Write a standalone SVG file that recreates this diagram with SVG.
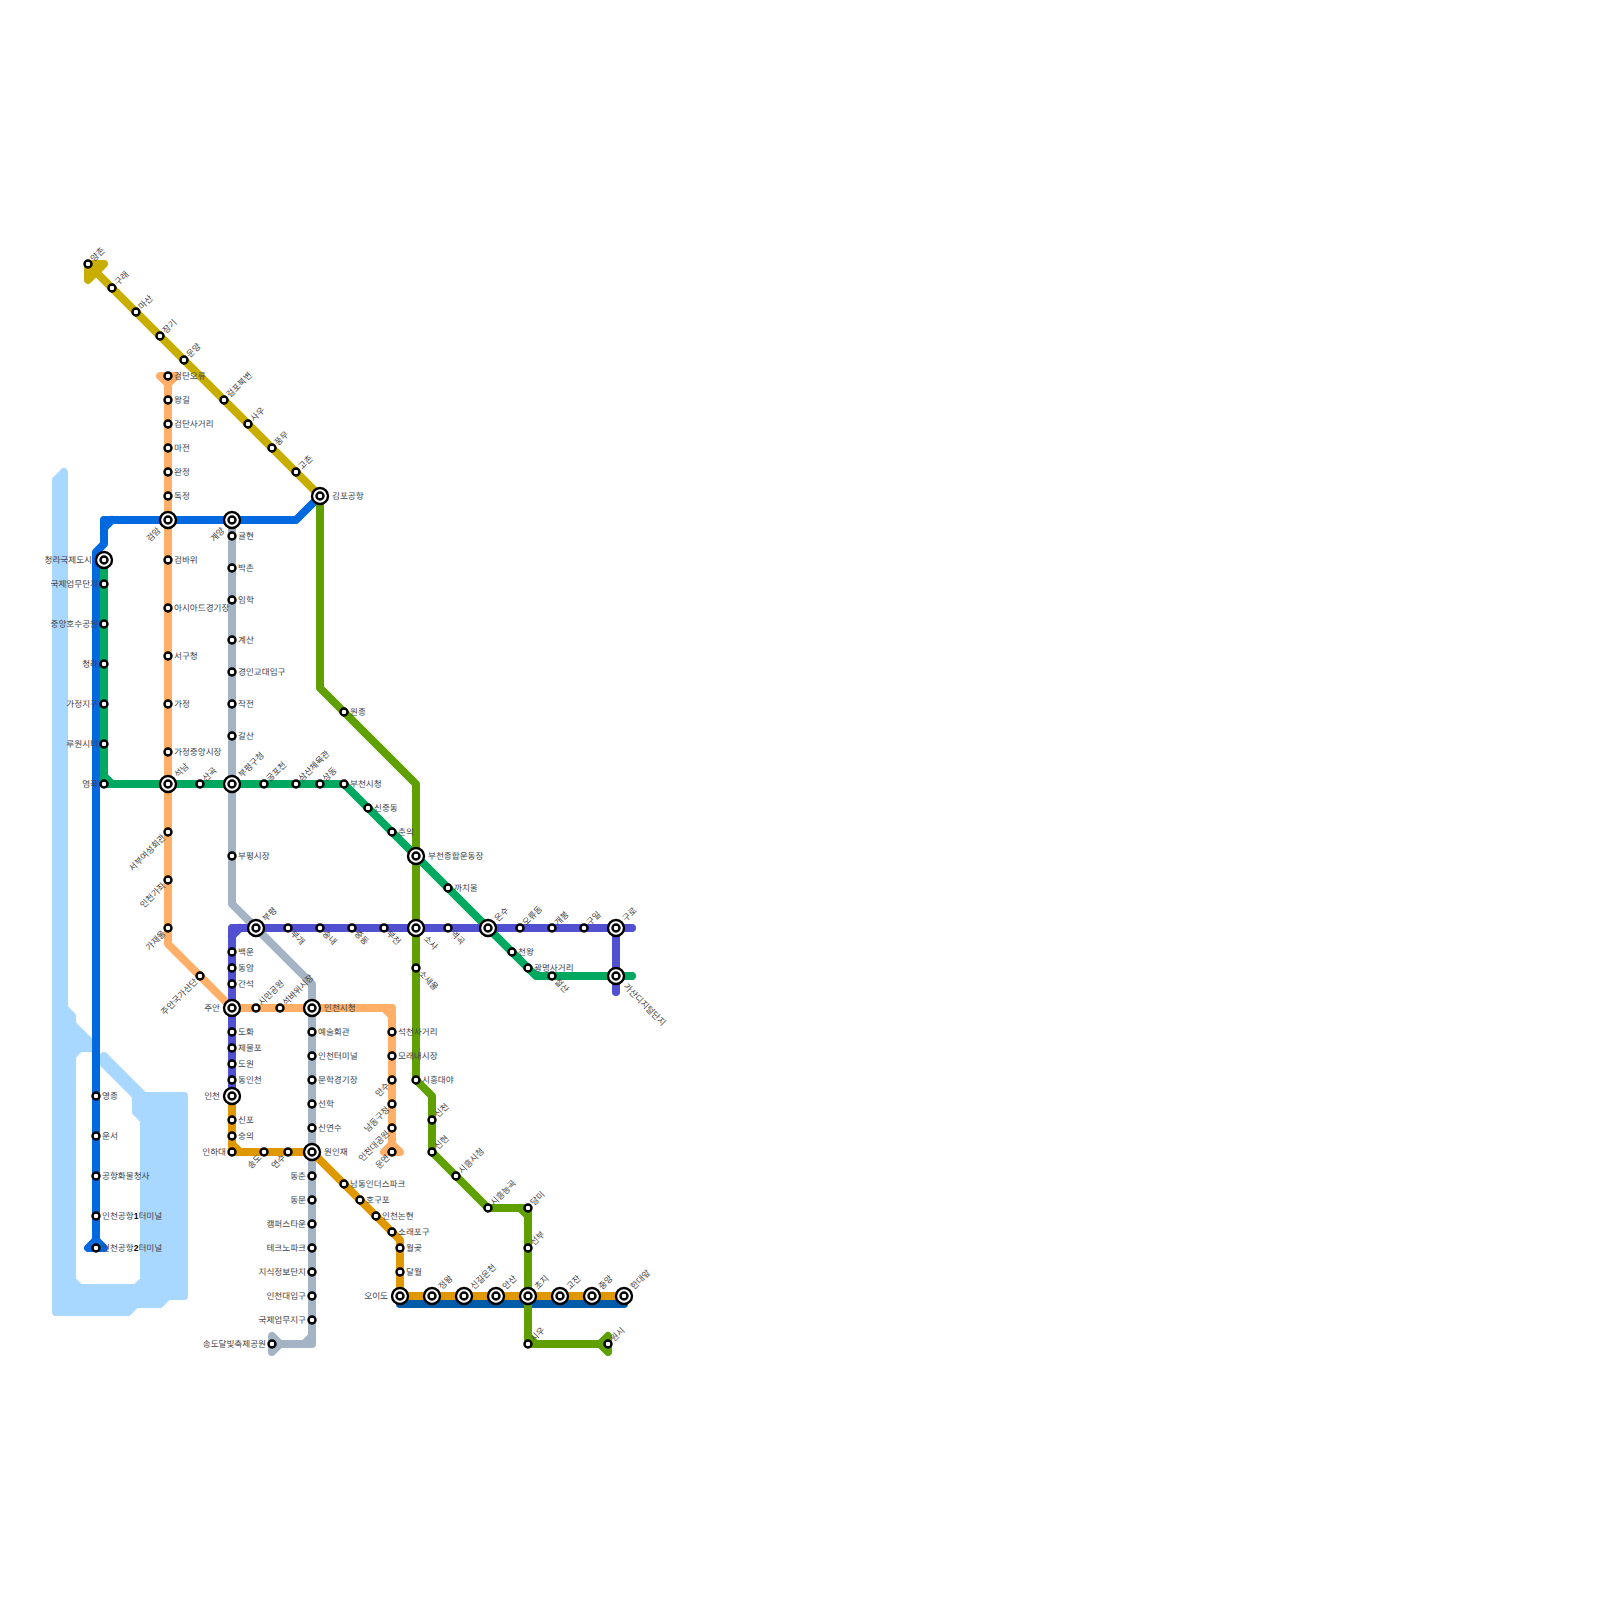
<svg xmlns="http://www.w3.org/2000/svg" width="1600" height="1600" viewBox="0 0 1600 1600">
<style>
.l{fill:none;stroke-width:8;stroke-linecap:round;stroke-linejoin:round}
.f{stroke-width:8;stroke-linejoin:round}
.s{fill:#fff;stroke:#000;stroke-width:2.4}
text{font-family:"Liberation Sans","Noto Sans CJK KR",sans-serif;font-size:8.6px;fill:#444;dominant-baseline:central;text-rendering:geometricPrecision}
.e{text-anchor:end}
.d{font-weight:700;fill:#000}
</style>
<rect width="1600" height="1600" fill="#fff"/>
<path id="water" d="M56 1312L56 480L64 472L64 1008L72 1016L72 1024L96 1048L80 1048L72 1056L72 1280L80 1288L136 1288L144 1280L144 1120L136 1112L136 1096L104 1064L104 1056L144 1096L184 1096L184 1296L168 1296L160 1304L136 1304L128 1312Z" fill="#a8d8ff" stroke="#a8d8ff" stroke-width="8" stroke-linejoin="round"/>
<g id="connectors">
<path class="l" stroke="#005ba8" d="M400 1304H624"/>
<g stroke="#a5b4c4"><path class="l" d="M232 520V904L312 984V1344H272M312 1336L304 1344"/><path class="f" fill="#a5b4c4" d="M272 1336V1352L280 1344Z"/></g>
<g stroke="#ffaf68"><path class="l" d="M168 376V944L232 1008H392V1152M384 1008L392 1016"/><path class="f" fill="#ffaf68" d="M160 376H176L168 384Z"/><path class="f" fill="#ffaf68" d="M384 1152H400L392 1144Z"/></g>
<g stroke="#0069e0"><path class="l" d="M320 496L296 520H104V544L96 552V1248M104 528L112 520"/><path class="f" fill="#0069e0" d="M88 1248H104L96 1240Z"/></g>
<path class="l" stroke="#00a860" d="M104 560V784H344L536 976H632M104 776L112 784"/>
<path class="l" stroke="#5050d0" d="M632 928H232V1096M232 936L240 928M616 928V992"/>
<path class="l" stroke="#e09800" d="M232 1096V1152H312L400 1240V1296H624M232 1144L240 1152"/>
<g stroke="#5fa000"><path class="l" d="M320 496V688L416 784V1080L432 1096V1152L488 1208H528V1344H608M520 1208L528 1216M528 1336L536 1344"/><path class="f" fill="#5fa000" d="M608 1336V1352L600 1344Z"/></g>
<g stroke="#c8ae00"><path class="l" d="M320 496L88 264"/><path class="f" fill="#c8ae00" d="M88 264H104L88 280Z"/></g>
</g>
<g id="st-yangchon"><circle class="s" cx="88" cy="264" r="3.5"/><text transform="translate(92 260) rotate(-45)">양촌</text></g>
<g id="st-gurae"><circle class="s" cx="112" cy="288" r="3.5"/><text transform="translate(116 284) rotate(-45)">구래</text></g>
<g id="st-masan"><circle class="s" cx="136" cy="312" r="3.5"/><text transform="translate(140 308) rotate(-45)">마산</text></g>
<g id="st-janggi"><circle class="s" cx="160" cy="336" r="3.5"/><text transform="translate(164 332) rotate(-45)">장기</text></g>
<g id="st-unyang"><circle class="s" cx="184" cy="360" r="3.5"/><text transform="translate(188 356) rotate(-45)">운양</text></g>
<g id="st-geolpo"><circle class="s" cx="224" cy="400" r="3.5"/><text transform="translate(228 396) rotate(-45)">걸포북변</text></g>
<g id="st-sau"><circle class="s" cx="248" cy="424" r="3.5"/><text transform="translate(252 420) rotate(-45)">사우</text></g>
<g id="st-pungmu"><circle class="s" cx="272" cy="448" r="3.5"/><text transform="translate(276 444) rotate(-45)">풍무</text></g>
<g id="st-gochon"><circle class="s" cx="296" cy="472" r="3.5"/><text transform="translate(300 468) rotate(-45)">고촌</text></g>
<g id="st-gimpo"><circle class="s" cx="320" cy="496" r="8"/><circle class="s" cx="320" cy="496" r="3.5"/><text x="332" y="496">김포공항</text></g>
<g id="st-geomdan-oryu"><circle class="s" cx="168" cy="376" r="3.5"/><text x="174" y="376">검단오류</text></g>
<g id="st-wanggil"><circle class="s" cx="168" cy="400" r="3.5"/><text x="174" y="400">왕길</text></g>
<g id="st-geomdan-sa"><circle class="s" cx="168" cy="424" r="3.5"/><text x="174" y="424">검단사거리</text></g>
<g id="st-majeon"><circle class="s" cx="168" cy="448" r="3.5"/><text x="174" y="448">마전</text></g>
<g id="st-wanjeong"><circle class="s" cx="168" cy="472" r="3.5"/><text x="174" y="472">완정</text></g>
<g id="st-dokjeong"><circle class="s" cx="168" cy="496" r="3.5"/><text x="174" y="496">독정</text></g>
<g id="st-geomam"><circle class="s" cx="168" cy="520" r="8"/><circle class="s" cx="168" cy="520" r="3.5"/><text class="e" transform="translate(159 529) rotate(-45)">검암</text></g>
<g id="st-geombawi"><circle class="s" cx="168" cy="560" r="3.5"/><text x="174" y="560">검바위</text></g>
<g id="st-asiad"><circle class="s" cx="168" cy="608" r="3.5"/><text x="174" y="608">아시아드경기장</text></g>
<g id="st-seogu"><circle class="s" cx="168" cy="656" r="3.5"/><text x="174" y="656">서구청</text></g>
<g id="st-gajeong"><circle class="s" cx="168" cy="704" r="3.5"/><text x="174" y="704">가정</text></g>
<g id="st-gajeong-m"><circle class="s" cx="168" cy="752" r="3.5"/><text x="174" y="752">가정중앙시장</text></g>
<g id="st-seoknam"><circle class="s" cx="168" cy="784" r="8"/><circle class="s" cx="168" cy="784" r="3.5"/><text transform="translate(176 776) rotate(-45)">석남</text></g>
<g id="st-seobu"><circle class="s" cx="168" cy="832" r="3.5"/><text class="e" transform="translate(164 836) rotate(-45)">서부여성회관</text></g>
<g id="st-gajwa"><circle class="s" cx="168" cy="880" r="3.5"/><text class="e" transform="translate(164 884) rotate(-45)">인천가좌</text></g>
<g id="st-gajaeul"><circle class="s" cx="168" cy="928" r="3.5"/><text class="e" transform="translate(164 932) rotate(-45)">가재울</text></g>
<g id="st-juan-sandan"><circle class="s" cx="200" cy="976" r="3.5"/><text class="e" transform="translate(196 980) rotate(-45)">주안국가산단</text></g>
<g id="st-juan"><circle class="s" cx="232" cy="1008" r="8"/><circle class="s" cx="232" cy="1008" r="3.5"/><text class="e" x="220" y="1008">주안</text></g>
<g id="st-simin"><circle class="s" cx="256" cy="1008" r="3.5"/><text transform="translate(260 1004) rotate(-45)">시민공원</text></g>
<g id="st-seokbawi"><circle class="s" cx="280" cy="1008" r="3.5"/><text transform="translate(284 1004) rotate(-45)">석바위시장</text></g>
<g id="st-incheon-cityhall"><circle class="s" cx="312" cy="1008" r="8"/><circle class="s" cx="312" cy="1008" r="3.5"/><text x="324" y="1008">인천시청</text></g>
<g id="st-seokcheon"><circle class="s" cx="392" cy="1032" r="3.5"/><text x="398" y="1032">석천사거리</text></g>
<g id="st-moraenae"><circle class="s" cx="392" cy="1056" r="3.5"/><text x="398" y="1056">모래내시장</text></g>
<g id="st-mansu"><circle class="s" cx="392" cy="1080" r="3.5"/><text class="e" transform="translate(388 1084) rotate(-45)">만수</text></g>
<g id="st-namdong"><circle class="s" cx="392" cy="1104" r="3.5"/><text class="e" transform="translate(388 1108) rotate(-45)">남동구청</text></g>
<g id="st-incheon-park"><circle class="s" cx="392" cy="1128" r="3.5"/><text class="e" transform="translate(388 1132) rotate(-45)">인천대공원</text></g>
<g id="st-unyeon"><circle class="s" cx="392" cy="1152" r="3.5"/><text class="e" transform="translate(388 1156) rotate(-45)">운연</text></g>
<g id="st-gyeyang"><circle class="s" cx="232" cy="520" r="8"/><circle class="s" cx="232" cy="520" r="3.5"/><text class="e" transform="translate(223 529) rotate(-45)">계양</text></g>
<g id="st-gyulhyeon"><circle class="s" cx="232" cy="536" r="3.5"/><text x="238" y="536">귤현</text></g>
<g id="st-bakchon"><circle class="s" cx="232" cy="568" r="3.5"/><text x="238" y="568">박촌</text></g>
<g id="st-imhak"><circle class="s" cx="232" cy="600" r="3.5"/><text x="238" y="600">임학</text></g>
<g id="st-gyesan"><circle class="s" cx="232" cy="640" r="3.5"/><text x="238" y="640">계산</text></g>
<g id="st-gyeongin"><circle class="s" cx="232" cy="672" r="3.5"/><text x="238" y="672">경인교대입구</text></g>
<g id="st-jakjeon"><circle class="s" cx="232" cy="704" r="3.5"/><text x="238" y="704">작전</text></g>
<g id="st-galsan"><circle class="s" cx="232" cy="736" r="3.5"/><text x="238" y="736">갈산</text></g>
<g id="st-bupyeong-gu"><circle class="s" cx="232" cy="784" r="8"/><circle class="s" cx="232" cy="784" r="3.5"/><text transform="translate(240 776) rotate(-45)">부평구청</text></g>
<g id="st-bupyeong-m"><circle class="s" cx="232" cy="856" r="3.5"/><text x="238" y="856">부평시장</text></g>
<g id="st-art"><circle class="s" cx="312" cy="1032" r="3.5"/><text x="318" y="1032">예술회관</text></g>
<g id="st-terminal"><circle class="s" cx="312" cy="1056" r="3.5"/><text x="318" y="1056">인천터미널</text></g>
<g id="st-munhak"><circle class="s" cx="312" cy="1080" r="3.5"/><text x="318" y="1080">문학경기장</text></g>
<g id="st-seonhak"><circle class="s" cx="312" cy="1104" r="3.5"/><text x="318" y="1104">선학</text></g>
<g id="st-sinyeonsu"><circle class="s" cx="312" cy="1128" r="3.5"/><text x="318" y="1128">신연수</text></g>
<g id="st-woninjae"><circle class="s" cx="312" cy="1152" r="8"/><circle class="s" cx="312" cy="1152" r="3.5"/><text x="324" y="1152">원인재</text></g>
<g id="st-dongchun"><circle class="s" cx="312" cy="1176" r="3.5"/><text class="e" x="306" y="1176">동춘</text></g>
<g id="st-dongmak"><circle class="s" cx="312" cy="1200" r="3.5"/><text class="e" x="306" y="1200">동문</text></g>
<g id="st-campus"><circle class="s" cx="312" cy="1224" r="3.5"/><text class="e" x="306" y="1224">캠퍼스타운</text></g>
<g id="st-techno"><circle class="s" cx="312" cy="1248" r="3.5"/><text class="e" x="306" y="1248">테크노파크</text></g>
<g id="st-jisik"><circle class="s" cx="312" cy="1272" r="3.5"/><text class="e" x="306" y="1272">지식정보단지</text></g>
<g id="st-incheon-univ"><circle class="s" cx="312" cy="1296" r="3.5"/><text class="e" x="306" y="1296">인천대입구</text></g>
<g id="st-gukje"><circle class="s" cx="312" cy="1320" r="3.5"/><text class="e" x="306" y="1320">국제업무지구</text></g>
<g id="st-songdo-moon"><circle class="s" cx="272" cy="1344" r="3.5"/><text class="e" x="266" y="1344">송도달빛축제공원</text></g>
<g id="st-cheongna-city"><circle class="s" cx="104" cy="560" r="8"/><circle class="s" cx="104" cy="560" r="3.5"/><text class="e" x="92" y="560">청라국제도시</text></g>
<g id="st-gukje2"><circle class="s" cx="104" cy="584" r="3.5"/><text class="e" x="98" y="584">국제업무단지</text></g>
<g id="st-jungang-lake"><circle class="s" cx="104" cy="624" r="3.5"/><text class="e" x="98" y="624">중앙호수공원</text></g>
<g id="st-cheongna"><circle class="s" cx="104" cy="664" r="3.5"/><text class="e" x="98" y="664">청라</text></g>
<g id="st-gajeong-j"><circle class="s" cx="104" cy="704" r="3.5"/><text class="e" x="98" y="704">가정지구</text></g>
<g id="st-ruwon"><circle class="s" cx="104" cy="744" r="3.5"/><text class="e" x="98" y="744">루원시티</text></g>
<g id="st-yeomgok"><circle class="s" cx="104" cy="784" r="3.5"/><text class="e" x="98" y="784">염곡</text></g>
<g id="st-sangok"><circle class="s" cx="200" cy="784" r="3.5"/><text transform="translate(204 780) rotate(-45)">산곡</text></g>
<g id="st-gulpo"><circle class="s" cx="264" cy="784" r="3.5"/><text transform="translate(268 780) rotate(-45)">굴포천</text></g>
<g id="st-samsan"><circle class="s" cx="296" cy="784" r="3.5"/><text transform="translate(300 780) rotate(-45)">삼산체육관</text></g>
<g id="st-sangdong"><circle class="s" cx="320" cy="784" r="3.5"/><text transform="translate(324 780) rotate(-45)">상동</text></g>
<g id="st-bucheon-city"><circle class="s" cx="344" cy="784" r="3.5"/><text x="350" y="784">부천시청</text></g>
<g id="st-sinjung"><circle class="s" cx="368" cy="808" r="3.5"/><text x="374" y="808">신중동</text></g>
<g id="st-chunui"><circle class="s" cx="392" cy="832" r="3.5"/><text x="398" y="832">춘의</text></g>
<g id="st-bucheon-stadium"><circle class="s" cx="416" cy="856" r="8"/><circle class="s" cx="416" cy="856" r="3.5"/><text x="428" y="856">부천종합운동장</text></g>
<g id="st-kkachi"><circle class="s" cx="448" cy="888" r="3.5"/><text x="454" y="888">까치울</text></g>
<g id="st-onsu"><circle class="s" cx="488" cy="928" r="8"/><circle class="s" cx="488" cy="928" r="3.5"/><text transform="translate(496 920) rotate(-45)">온수</text></g>
<g id="st-oryu"><circle class="s" cx="520" cy="928" r="3.5"/><text transform="translate(524 924) rotate(-45)">오류동</text></g>
<g id="st-gaebong"><circle class="s" cx="552" cy="928" r="3.5"/><text transform="translate(556 924) rotate(-45)">개봉</text></g>
<g id="st-guil"><circle class="s" cx="584" cy="928" r="3.5"/><text transform="translate(588 924) rotate(-45)">구일</text></g>
<g id="st-guro"><circle class="s" cx="616" cy="928" r="8"/><circle class="s" cx="616" cy="928" r="3.5"/><text transform="translate(624 920) rotate(-45)">구로</text></g>
<g id="st-cheonwang"><circle class="s" cx="512" cy="952" r="3.5"/><text x="518" y="952">천왕</text></g>
<g id="st-gwangmyeong"><circle class="s" cx="528" cy="968" r="3.5"/><text x="534" y="968">광명사거리</text></g>
<g id="st-cheolsan"><circle class="s" cx="552" cy="976" r="3.5"/><text transform="translate(556 980) rotate(45)">철산</text></g>
<g id="st-gasan"><circle class="s" cx="616" cy="976" r="8"/><circle class="s" cx="616" cy="976" r="3.5"/><text transform="translate(625 985) rotate(45)">가산디지털단지</text></g>
<g id="st-yeokgok"><circle class="s" cx="448" cy="928" r="3.5"/><text transform="translate(452 932) rotate(45)">역곡</text></g>
<g id="st-sosa"><circle class="s" cx="416" cy="928" r="8"/><circle class="s" cx="416" cy="928" r="3.5"/><text transform="translate(425 937) rotate(45)">소사</text></g>
<g id="st-bucheon"><circle class="s" cx="384" cy="928" r="3.5"/><text transform="translate(388 932) rotate(45)">부천</text></g>
<g id="st-jungdong"><circle class="s" cx="352" cy="928" r="3.5"/><text transform="translate(356 932) rotate(45)">중동</text></g>
<g id="st-songnae"><circle class="s" cx="320" cy="928" r="3.5"/><text transform="translate(324 932) rotate(45)">송내</text></g>
<g id="st-bugae"><circle class="s" cx="288" cy="928" r="3.5"/><text transform="translate(292 932) rotate(45)">부개</text></g>
<g id="st-bupyeong"><circle class="s" cx="256" cy="928" r="8"/><circle class="s" cx="256" cy="928" r="3.5"/><text transform="translate(264 920) rotate(-45)">부평</text></g>
<g id="st-baegun"><circle class="s" cx="232" cy="952" r="3.5"/><text x="238" y="952">백운</text></g>
<g id="st-dongam"><circle class="s" cx="232" cy="968" r="3.5"/><text x="238" y="968">동암</text></g>
<g id="st-ganseok"><circle class="s" cx="232" cy="984" r="3.5"/><text x="238" y="984">간석</text></g>
<g id="st-dohwa"><circle class="s" cx="232" cy="1032" r="3.5"/><text x="238" y="1032">도화</text></g>
<g id="st-jemulpo"><circle class="s" cx="232" cy="1048" r="3.5"/><text x="238" y="1048">제물포</text></g>
<g id="st-dowon"><circle class="s" cx="232" cy="1064" r="3.5"/><text x="238" y="1064">도원</text></g>
<g id="st-dongincheon"><circle class="s" cx="232" cy="1080" r="3.5"/><text x="238" y="1080">동인천</text></g>
<g id="st-incheon"><circle class="s" cx="232" cy="1096" r="8"/><circle class="s" cx="232" cy="1096" r="3.5"/><text class="e" x="220" y="1096">인천</text></g>
<g id="st-sinpo"><circle class="s" cx="232" cy="1120" r="3.5"/><text x="238" y="1120">신포</text></g>
<g id="st-sungui"><circle class="s" cx="232" cy="1136" r="3.5"/><text x="238" y="1136">숭의</text></g>
<g id="st-inha"><circle class="s" cx="232" cy="1152" r="3.5"/><text class="e" x="226" y="1152">인하대</text></g>
<g id="st-songdo"><circle class="s" cx="264" cy="1152" r="3.5"/><text class="e" transform="translate(260 1156) rotate(-45)">송도</text></g>
<g id="st-yeonsu"><circle class="s" cx="288" cy="1152" r="3.5"/><text class="e" transform="translate(284 1156) rotate(-45)">연수</text></g>
<g id="st-namdong-ind"><circle class="s" cx="344" cy="1184" r="3.5"/><text x="350" y="1184">남동인더스파크</text></g>
<g id="st-hogupo"><circle class="s" cx="360" cy="1200" r="3.5"/><text x="366" y="1200">호구포</text></g>
<g id="st-nonhyeon"><circle class="s" cx="376" cy="1216" r="3.5"/><text x="382" y="1216">인천논현</text></g>
<g id="st-soraepogu"><circle class="s" cx="392" cy="1232" r="3.5"/><text x="398" y="1232">소래포구</text></g>
<g id="st-wolgot"><circle class="s" cx="400" cy="1248" r="3.5"/><text x="406" y="1248">월곶</text></g>
<g id="st-dalwol"><circle class="s" cx="400" cy="1272" r="3.5"/><text x="406" y="1272">달월</text></g>
<g id="st-oido"><circle class="s" cx="400" cy="1296" r="8"/><circle class="s" cx="400" cy="1296" r="3.5"/><text class="e" x="388" y="1296">오이도</text></g>
<g id="st-jeongwang"><circle class="s" cx="432" cy="1296" r="8"/><circle class="s" cx="432" cy="1296" r="3.5"/><text transform="translate(440 1288) rotate(-45)">정왕</text></g>
<g id="st-singil"><circle class="s" cx="464" cy="1296" r="8"/><circle class="s" cx="464" cy="1296" r="3.5"/><text transform="translate(472 1288) rotate(-45)">신길온천</text></g>
<g id="st-ansan"><circle class="s" cx="496" cy="1296" r="8"/><circle class="s" cx="496" cy="1296" r="3.5"/><text transform="translate(504 1288) rotate(-45)">안산</text></g>
<g id="st-choji"><circle class="s" cx="528" cy="1296" r="8"/><circle class="s" cx="528" cy="1296" r="3.5"/><text transform="translate(536 1288) rotate(-45)">초지</text></g>
<g id="st-gojan"><circle class="s" cx="560" cy="1296" r="8"/><circle class="s" cx="560" cy="1296" r="3.5"/><text transform="translate(568 1288) rotate(-45)">고잔</text></g>
<g id="st-jungang"><circle class="s" cx="592" cy="1296" r="8"/><circle class="s" cx="592" cy="1296" r="3.5"/><text transform="translate(600 1288) rotate(-45)">중앙</text></g>
<g id="st-handae"><circle class="s" cx="624" cy="1296" r="8"/><circle class="s" cx="624" cy="1296" r="3.5"/><text transform="translate(632 1288) rotate(-45)">한대앞</text></g>
<g id="st-wonjong"><circle class="s" cx="344" cy="712" r="3.5"/><text x="350" y="712">원종</text></g>
<g id="st-sosaeul"><circle class="s" cx="416" cy="968" r="3.5"/><text transform="translate(420 972) rotate(45)">소새울</text></g>
<g id="st-siheung-daeya"><circle class="s" cx="416" cy="1080" r="3.5"/><text x="422" y="1080">시흥대야</text></g>
<g id="st-sincheon"><circle class="s" cx="432" cy="1120" r="3.5"/><text transform="translate(436 1116) rotate(-45)">신천</text></g>
<g id="st-sinhyeon"><circle class="s" cx="432" cy="1152" r="3.5"/><text transform="translate(436 1148) rotate(-45)">신현</text></g>
<g id="st-siheung-city"><circle class="s" cx="456" cy="1176" r="3.5"/><text transform="translate(460 1172) rotate(-45)">시흥시청</text></g>
<g id="st-neunggok"><circle class="s" cx="488" cy="1208" r="3.5"/><text transform="translate(492 1204) rotate(-45)">시흥능곡</text></g>
<g id="st-dalmi"><circle class="s" cx="528" cy="1208" r="3.5"/><text transform="translate(532 1204) rotate(-45)">달미</text></g>
<g id="st-seonbu"><circle class="s" cx="528" cy="1248" r="3.5"/><text transform="translate(532 1244) rotate(-45)">선부</text></g>
<g id="st-siu"><circle class="s" cx="528" cy="1344" r="3.5"/><text transform="translate(532 1340) rotate(-45)">시우</text></g>
<g id="st-wonsi"><circle class="s" cx="608" cy="1344" r="3.5"/><text transform="translate(612 1340) rotate(-45)">원시</text></g>
<g id="st-yeongjong"><circle class="s" cx="96" cy="1096" r="3.5"/><text x="102" y="1096">영종</text></g>
<g id="st-unseo"><circle class="s" cx="96" cy="1136" r="3.5"/><text x="102" y="1136">운서</text></g>
<g id="st-cargo"><circle class="s" cx="96" cy="1176" r="3.5"/><text x="102" y="1176">공항화물청사</text></g>
<g id="st-t1"><circle class="s" cx="96" cy="1216" r="3.5"/><text x="102" y="1216">인천공항<tspan class="d">1</tspan>터미널</text></g>
<g id="st-t2"><circle class="s" cx="96" cy="1248" r="3.5"/><text x="102" y="1248">인천공항<tspan class="d">2</tspan>터미널</text></g>
</svg>
